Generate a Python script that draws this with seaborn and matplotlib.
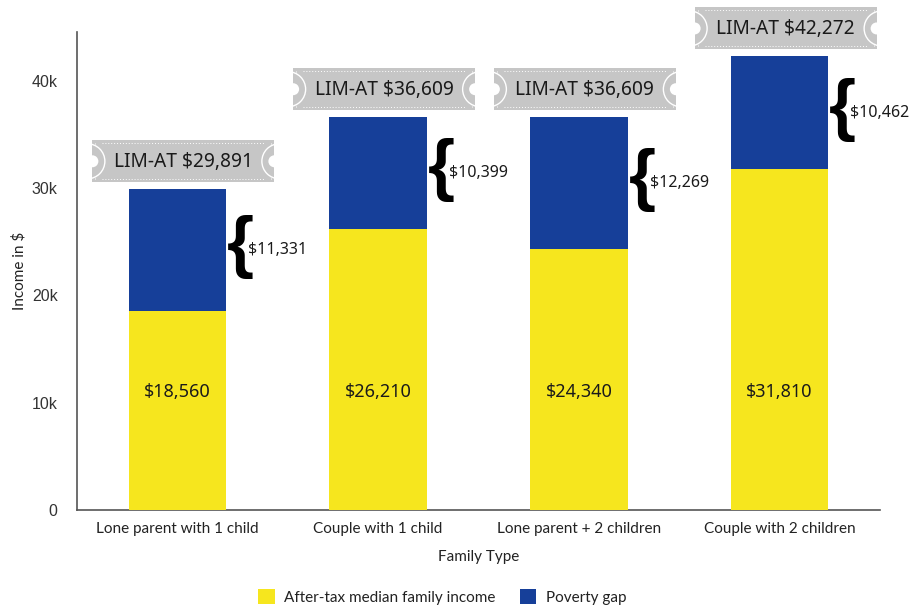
import numpy as np
import pandas as pd
import matplotlib
matplotlib.use("Agg")
import matplotlib.pyplot as plt
from matplotlib.patches import Rectangle, Circle, Patch
import seaborn as sns

# Family types and incomes (dollars)
families = ["Lone parent with 1 child", "Couple with 1 child",
            "Lone parent + 2 children", "Couple with 2 children"]
median_income = [18560, 26210, 24340, 31810]
poverty_gap = [11331, 10399, 12269, 10462]
lim_at = [29891, 36609, 36609, 42272]
y_ticks = [0, 10000, 20000, 30000, 40000]
y_tick_labels = ["0", "10k", "20k", "30k", "40k"]

YELLOW = "#F6E61E"
BLUE = "#163F99"
BADGE_GREY = "#C6C6C6"
INK = "#1A1A1A"

df = pd.DataFrame({
    "family": families,
    "income": median_income,
    "gap": poverty_gap,
})
df["total"] = df["income"] + df["gap"]

sns.set_theme(style="white")
plt.rcParams["font.family"] = ["Lato", "DejaVu Sans"]

W, H = 914, 609
fig = plt.figure(figsize=(W / 100, H / 100), dpi=100)
ax = fig.add_axes([77 / W, 1 - 510 / H, 803 / W, 478 / H])

bar_w = 0.485
# Stacked bars: full height (poverty gap colour) then the income part on top
sns.barplot(data=df, x="family", y="total", color=BLUE, saturation=1,
            width=bar_w, ax=ax, zorder=2, linewidth=0)
sns.barplot(data=df, x="family", y="income", color=YELLOW, saturation=1,
            width=bar_w, ax=ax, zorder=3, linewidth=0)

ax.set_xlim(-0.5, len(families) - 0.5)
ax.set_ylim(0, 44550)
ax.set_yticks(y_ticks)
ax.set_yticklabels(y_tick_labels, fontfamily="Liberation Sans", fontsize=11.5,
                   color="#333333")
ax.tick_params(axis="y", length=0, pad=14)
ax.tick_params(axis="x", length=0, pad=9, labelsize=11, labelcolor="#222222")
ax.set_xlabel("Family Type", fontsize=11, color="#222222", labelpad=10)
ax.set_ylabel("Income in $", fontsize=11, color="#222222")
ax.yaxis.set_label_coords((26 - 77) / 803, 0.5)
for side in ("top", "right"):
    ax.spines[side].set_visible(False)
for side in ("left", "bottom"):
    ax.spines[side].set_color("#555555")
    ax.spines[side].set_linewidth(1.2)

# Value labels inside the income segment
for i, v in enumerate(median_income):
    ax.text(i, 11000, f"${v:,}", ha="center", va="center",
            fontfamily="Noto Sans", fontsize=13, color=INK, zorder=5)

# Curly brace and poverty-gap amount next to each bar
for i, (base, gap) in enumerate(zip(median_income, poverty_gap)):
    mid = base + gap / 2
    x_edge = i + bar_w / 2
    ax.annotate("{", xy=(x_edge, mid), xytext=(1, 3), textcoords="offset pixels",
                ha="left", va="center", fontfamily="Liberation Sans",
                fontweight="bold", fontsize=50, color="black",
                annotation_clip=False)
    ax.annotate(f"${gap:,}", xy=(x_edge, mid), xytext=(22, 0),
                textcoords="offset pixels", ha="left", va="center",
                fontfamily="Noto Sans", fontsize=11.5, color=INK,
                annotation_clip=False)

# Ticket-style badges with the LIM-AT threshold above each bar
bw, bh = 182, 42
fig_inv = fig.transFigure.inverted()
for i, (total, lim) in enumerate(zip(df["total"], lim_at)):
    cx, top = ax.transData.transform((i, total))
    x0, y0 = cx + 6 - bw / 2, top + 7
    (fx0, fy0) = fig_inv.transform((x0, y0))
    (fx1, fy1) = fig_inv.transform((x0 + bw, y0 + bh))
    bax = fig.add_axes([fx0, fy0, fx1 - fx0, fy1 - fy0])
    bax.set_xlim(0, bw)
    bax.set_ylim(0, bh)
    bax.axis("off")
    bax.add_patch(Rectangle((0, 0), bw, bh, facecolor=BADGE_GREY,
                            edgecolor="none"))
    for ex, sgn in ((0, -1), (bw, 1)):
        bax.add_patch(Circle((ex, bh / 2), 6, facecolor="white",
                             edgecolor="none"))
        bax.add_patch(Circle((ex + sgn * 5, bh / 2), 17.5, facecolor="none",
                             edgecolor="white", lw=1.0))
    dot = dict(color="white", lw=0.7, linestyle=(0, (1, 2)))
    bax.plot([10, bw - 10], [bh - 3, bh - 3], **dot)
    bax.plot([10, bw - 10], [3, 3], **dot)
    for ex in (3, bw - 3):
        bax.plot([ex, ex], [bh - 3, bh - 6], **dot)
        bax.plot([ex, ex], [3, 6], **dot)
    bax.text(bw / 2, bh / 2 - 1, f"LIM-AT ${lim:,}", ha="center", va="center",
             fontfamily="Noto Sans", fontsize=13.8, color=INK)

handles = [Patch(facecolor=YELLOW, edgecolor="none",
                 label="After-tax median family income"),
           Patch(facecolor=BLUE, edgecolor="none", label="Poverty gap")]
fig.legend(handles=handles, loc="center", bbox_to_anchor=(442 / W, 1 - 597 / H),
           ncol=2, frameon=False, fontsize=11, handlelength=1.1,
           handleheight=1.1, handletextpad=0.6, columnspacing=1.6,
           labelcolor="#222222")

fig.savefig("out.png", dpi=100)
